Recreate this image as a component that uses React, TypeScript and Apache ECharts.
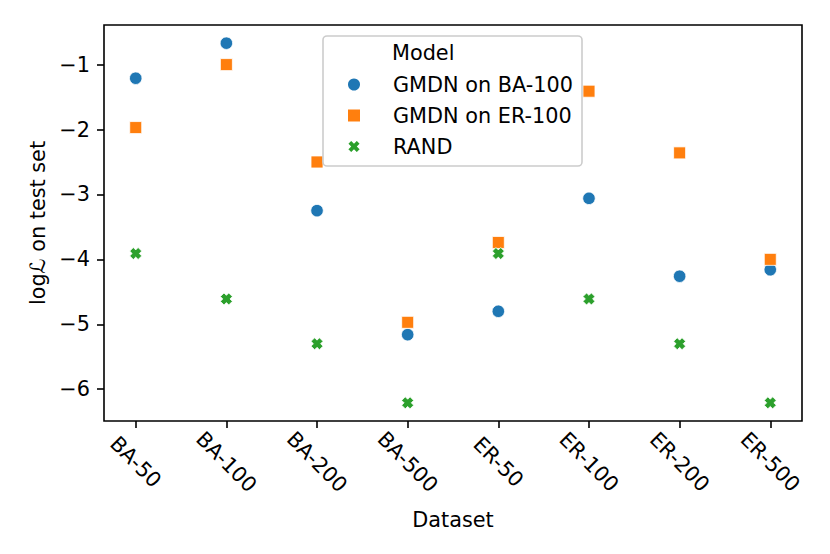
import React, { useEffect, useRef } from "react";
import * as echarts from "echarts";

const categories = ["BA-50", "BA-100", "BA-200", "BA-500", "ER-50", "ER-100", "ER-200", "ER-500"];
const gmdnBA100 = [-1.21, -0.67, -3.25, -5.16, -4.8, -3.06, -4.26, -4.16];
const gmdnER100 = [-1.97, -1.0, -2.5, -4.97, -3.74, -1.41, -2.36, -4.0];
const rand = [-3.91, -4.61, -5.3, -6.21, -3.91, -4.61, -5.3, -6.21];
const yTicks = [-6, -5, -4, -3, -2, -1];
const seriesNames = ["GMDN on BA-100", "GMDN on ER-100", "RAND"];
const legendTitle = "Model";

const FONT = "DejaVu Sans";
const FS = 20.8;
const X_PATH =
  "path://M0,3 L3,0 L5,2 L7,0 L10,3 L8,5 L10,7 L7,10 L5,8 L3,10 L0,7 L2,5 Z";
const SQ_PATH = "path://M0,0 L10,0 L10,10 L0,10 Z";

export default function App() {
  const ref = useRef<HTMLDivElement>(null);
  useEffect(() => {
    if (!ref.current) return;
    const chart = echarts.init(ref.current, null, { renderer: "svg" });
    const toPts = (arr: number[]) => arr.map((v, i) => [i, v]);
    const idx = categories.map((_, i) => i);
    chart.setOption({
      animation: false,
      backgroundColor: "#ffffff",
      textStyle: { fontFamily: FONT },
      grid: {
        left: 104,
        right: 28,
        top: 25,
        bottom: 133,
        show: true,
        borderColor: "#000",
        borderWidth: 1.6,
        backgroundColor: "transparent",
      },
      legend: {
        data: seriesNames,
        orient: "vertical",
        left: 346,
        top: 74,
        padding: 0,
        itemWidth: 68,
        itemHeight: 14,
        itemGap: 10,
        textStyle: { fontSize: FS, color: "#000", fontFamily: FONT },
        z: 6,
      },
      graphic: [
        {
          type: "rect",
          shape: { x: 323, y: 36, width: 259, height: 130, r: 4 },
          style: { fill: "rgba(255,255,255,0.8)", stroke: "#cccccc", lineWidth: 1.6 },
          z: 3,
        },
        {
          type: "text",
          x: 392,
          y: 53,
          style: {
            text: legendTitle,
            fontSize: FS,
            fontFamily: FONT,
            fill: "#000",
            verticalAlign: "middle",
            align: "left",
          },
          z: 6,
        },
      ],
      xAxis: {
        type: "value",
        min: -0.35,
        max: 7.35,
        name: "Dataset",
        nameLocation: "middle",
        nameGap: 88,
        nameTextStyle: { fontSize: FS, color: "#000", fontFamily: FONT },
        splitLine: { show: false },
        axisLine: { show: false, onZero: false },
        axisTick: {
          show: true,
          customValues: idx,
          length: 7,
          lineStyle: { color: "#000", width: 1.6 },
        },
        axisLabel: {
          customValues: idx,
          formatter: (v: number) => categories[Math.round(v)] ?? "",
          rotate: -45,
          align: "center",
          verticalAlign: "middle",
          margin: 41,
          fontSize: FS,
          color: "#000",
          fontFamily: FONT,
        },
      },
      yAxis: {
        type: "value",
        min: -6.49,
        max: -0.39,
        name: "log\u2112 on test set",
        nameLocation: "middle",
        nameGap: 56,
        nameTextStyle: { fontSize: FS, color: "#000", fontFamily: FONT },
        splitLine: { show: false },
        axisLine: { show: false, onZero: false },
        axisTick: {
          show: true,
          customValues: yTicks,
          length: 7,
          lineStyle: { color: "#000", width: 1.6 },
        },
        axisLabel: {
          customValues: yTicks,
          formatter: (v: number) => (v < 0 ? "\u2212" + Math.abs(v) : String(v)),
          margin: 14,
          fontSize: FS,
          color: "#000",
          fontFamily: FONT,
        },
      },
      series: [
        {
          name: seriesNames[0],
          type: "scatter",
          symbol: "circle",
          symbolSize: 12.5,
          itemStyle: { color: "#1f77b4", borderColor: "#ffffff", borderWidth: 0.8, opacity: 1 },
          data: toPts(gmdnBA100),
        },
        {
          name: seriesNames[1],
          type: "scatter",
          symbol: SQ_PATH,
          symbolSize: 12,
          itemStyle: { color: "#ff7f0e", borderColor: "#ffffff", borderWidth: 0.8, opacity: 1 },
          data: toPts(gmdnER100),
        },
        {
          name: seriesNames[2],
          type: "scatter",
          symbol: X_PATH,
          symbolSize: 12,
          itemStyle: { color: "#2ca02c", borderColor: "#ffffff", borderWidth: 0.8, opacity: 1 },
          data: toPts(rand),
        },
      ],
    });
    return () => chart.dispose();
  }, []);
  return (
    <div
      ref={ref}
      style={{ position: "fixed", left: 0, top: 0, width: 830, height: 554, background: "#fff" }}
    />
  );
}
